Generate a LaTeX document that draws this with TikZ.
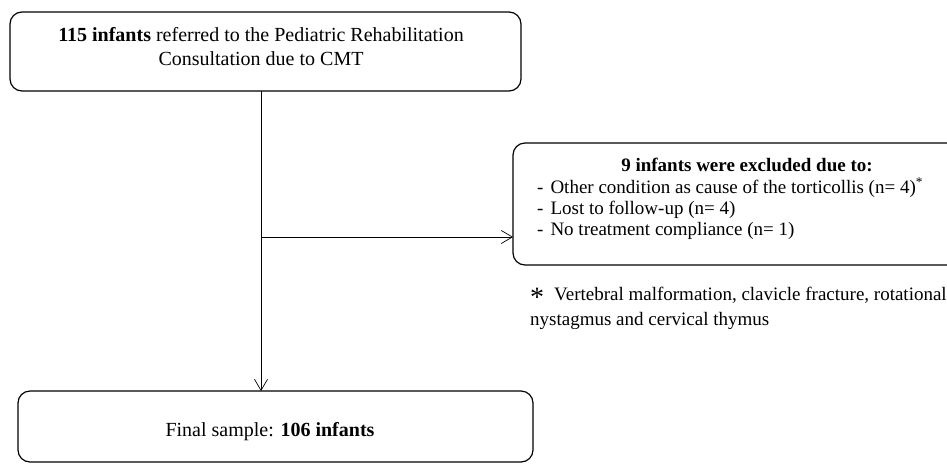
\documentclass[tikz,border=0pt]{standalone}
\usepackage{fontspec}
\setmainfont{Liberation Serif}
\usetikzlibrary{arrows.meta}
\begin{document}
\begin{tikzpicture}[x=1pt,y=-1pt,
  box/.style={draw,line width=1.2pt,rounded corners=12pt},
  txt/.style={inner sep=0pt,anchor=base,font=\fontsize{20}{22}\selectfont},
  rtxt/.style={inner sep=0pt,anchor=base west,font=\fontsize{19}{21}\selectfont},
  conn/.style={line width=0.7pt,-{Straight Barb[length=11pt,width=13pt,line width=0.7pt]}}]
\useasboundingbox (0,0) rectangle (947,464);
% boxes
\draw[box] (10,12) rectangle (521,91);
\coordinate (topb) at (261,91);
\draw[box] (18,391) rectangle (533,462);
\coordinate (botb) at (261,391);
\draw[box] (513,143) rectangle (960,265);
\coordinate (rightb) at (513,237);
\coordinate (split) at (261,237);
% texts
\node[txt] (t1) at (261,41) {\textbf{115 infants} referred to the Pediatric Rehabilitation};
\node[txt] (t2) at (261,65) {Consultation due to CMT};
\node[txt] (b1) at (270,436) {Final sample: \textbf{106 infants}};
\node[txt,font=\fontsize{19}{21}\bfseries] (r0) at (747,171) {9 infants were excluded due to:};
\node[rtxt] (r1) at (537,193) {-\hspace{7pt}Other condition as cause of the torticollis (n=~4)\textsuperscript{*}};
\node[rtxt] (r2) at (537,214) {-\hspace{7pt}Lost to follow-up (n=~4)};
\node[rtxt] (r3) at (537,235) {-\hspace{7pt}No treatment compliance (n=~1)};
\node[rtxt,font=\fontsize{19}{25}\selectfont,align=left] (foot) at (530,325)
  {\raisebox{-6pt}{\fontsize{28}{28}\selectfont *}\hspace{10pt}Vertebral malformation, clavicle fracture, rotational\\nystagmus and cervical thymus};
% connectors
\draw[conn] (topb) -- (botb);
\draw[conn] (split) -- (rightb);
\end{tikzpicture}
\end{document}
